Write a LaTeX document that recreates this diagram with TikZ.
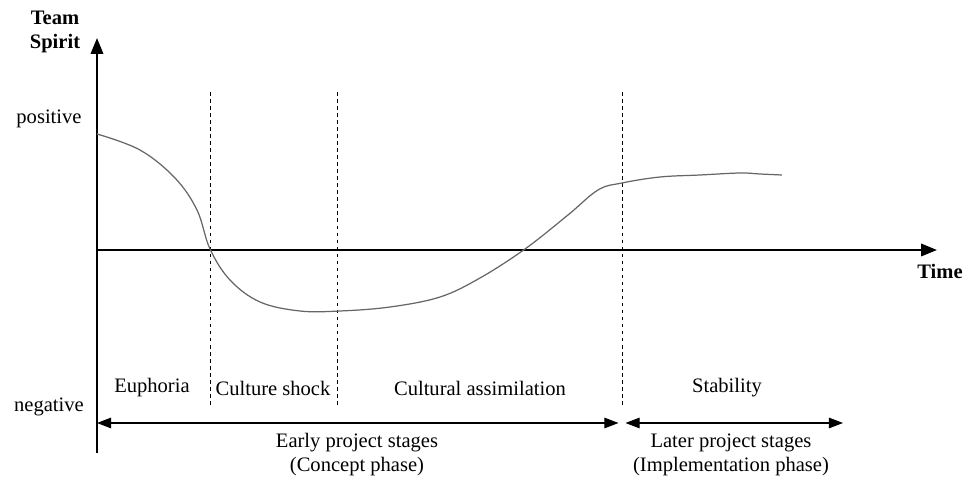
\documentclass[tikz,border=0pt]{standalone}
\usepackage{fontspec}
\setmainfont{Liberation Serif}
\usetikzlibrary{arrows.meta}
\tikzset{
  axis/.style={line width=1.3pt,-{Triangle[length=9pt,width=7pt]}},
  phase/.style={dash pattern=on 2pt off 2pt,line width=0.5pt},
  span/.style={line width=0.6pt,{Triangle[length=8pt,width=6pt]}-{Triangle[length=8pt,width=6pt]}},
  lbl/.style={font=\fontsize{11.7}{13.6}\selectfont,align=center},
  blbl/.style={font=\fontsize{11.7}{13.6}\selectfont\bfseries,align=center}
}
\begin{document}
\begin{tikzpicture}[x=0.02cm,y=-0.02cm]
  \useasboundingbox (0,0) rectangle (965,482);
  % axes
  \coordinate (o) at (97,250);
  \coordinate (ybot) at (97,453);
  \coordinate (ytop) at (97,38);
  \coordinate (xtip) at (937,250);
  \draw[line width=1.3pt] (o) -- (ybot);
  \draw[axis] (o) -- (ytop);
  \draw[axis] (o) -- (xtip);
  \node[blbl] (team) at (55,32) {Team\\Spirit};
  \node[blbl] (time) at (940,271) {Time};
  \node[lbl] (pos) at (49,119) {positive};
  \node[lbl] (neg) at (49,407) {negative};
  % stage borders
  \draw[phase] (210,92) coordinate (d1) -- (210,407);
  \draw[phase] (337,92) coordinate (d2) -- (337,407);
  \draw[phase] (622,92) coordinate (d3) -- (622,407);
  % team spirit curve
  \draw[gray!80!black,line width=0.7pt] plot[smooth,tension=0.6] coordinates {
    (97,134) (140,150) (175,178) (197,210) (210,249) (230,280) (260,302)
    (300,311) (340,311) (390,307) (440,297) (480,278) (525,249) (568,215)
    (598,190) (622,183) (660,177) (700,175) (740,173) (760,174) (782,175)};
  % stage names
  \node[lbl] (eu) at (152,388) {Euphoria};
  \node[lbl] (cs) at (273,388) {Culture shock};
  \node[lbl] (ca) at (480,388) {Cultural assimilation};
  \node[lbl] (st) at (727,388) {Stability};
  % project stages
  \coordinate (a0) at (97,423);
  \coordinate (a1) at (622,423);
  \coordinate (a2) at (843,423);
  \draw[span] (a0) -- ([xshift=-2pt]a1);
  \draw[span] ([xshift=2pt]a1) -- (a2);
  \node[lbl] (early) at (357,455) {Early project stages\\(Concept phase)};
  \node[lbl] (later) at (731,455) {Later project stages\\(Implementation phase)};
\end{tikzpicture}
\end{document}
